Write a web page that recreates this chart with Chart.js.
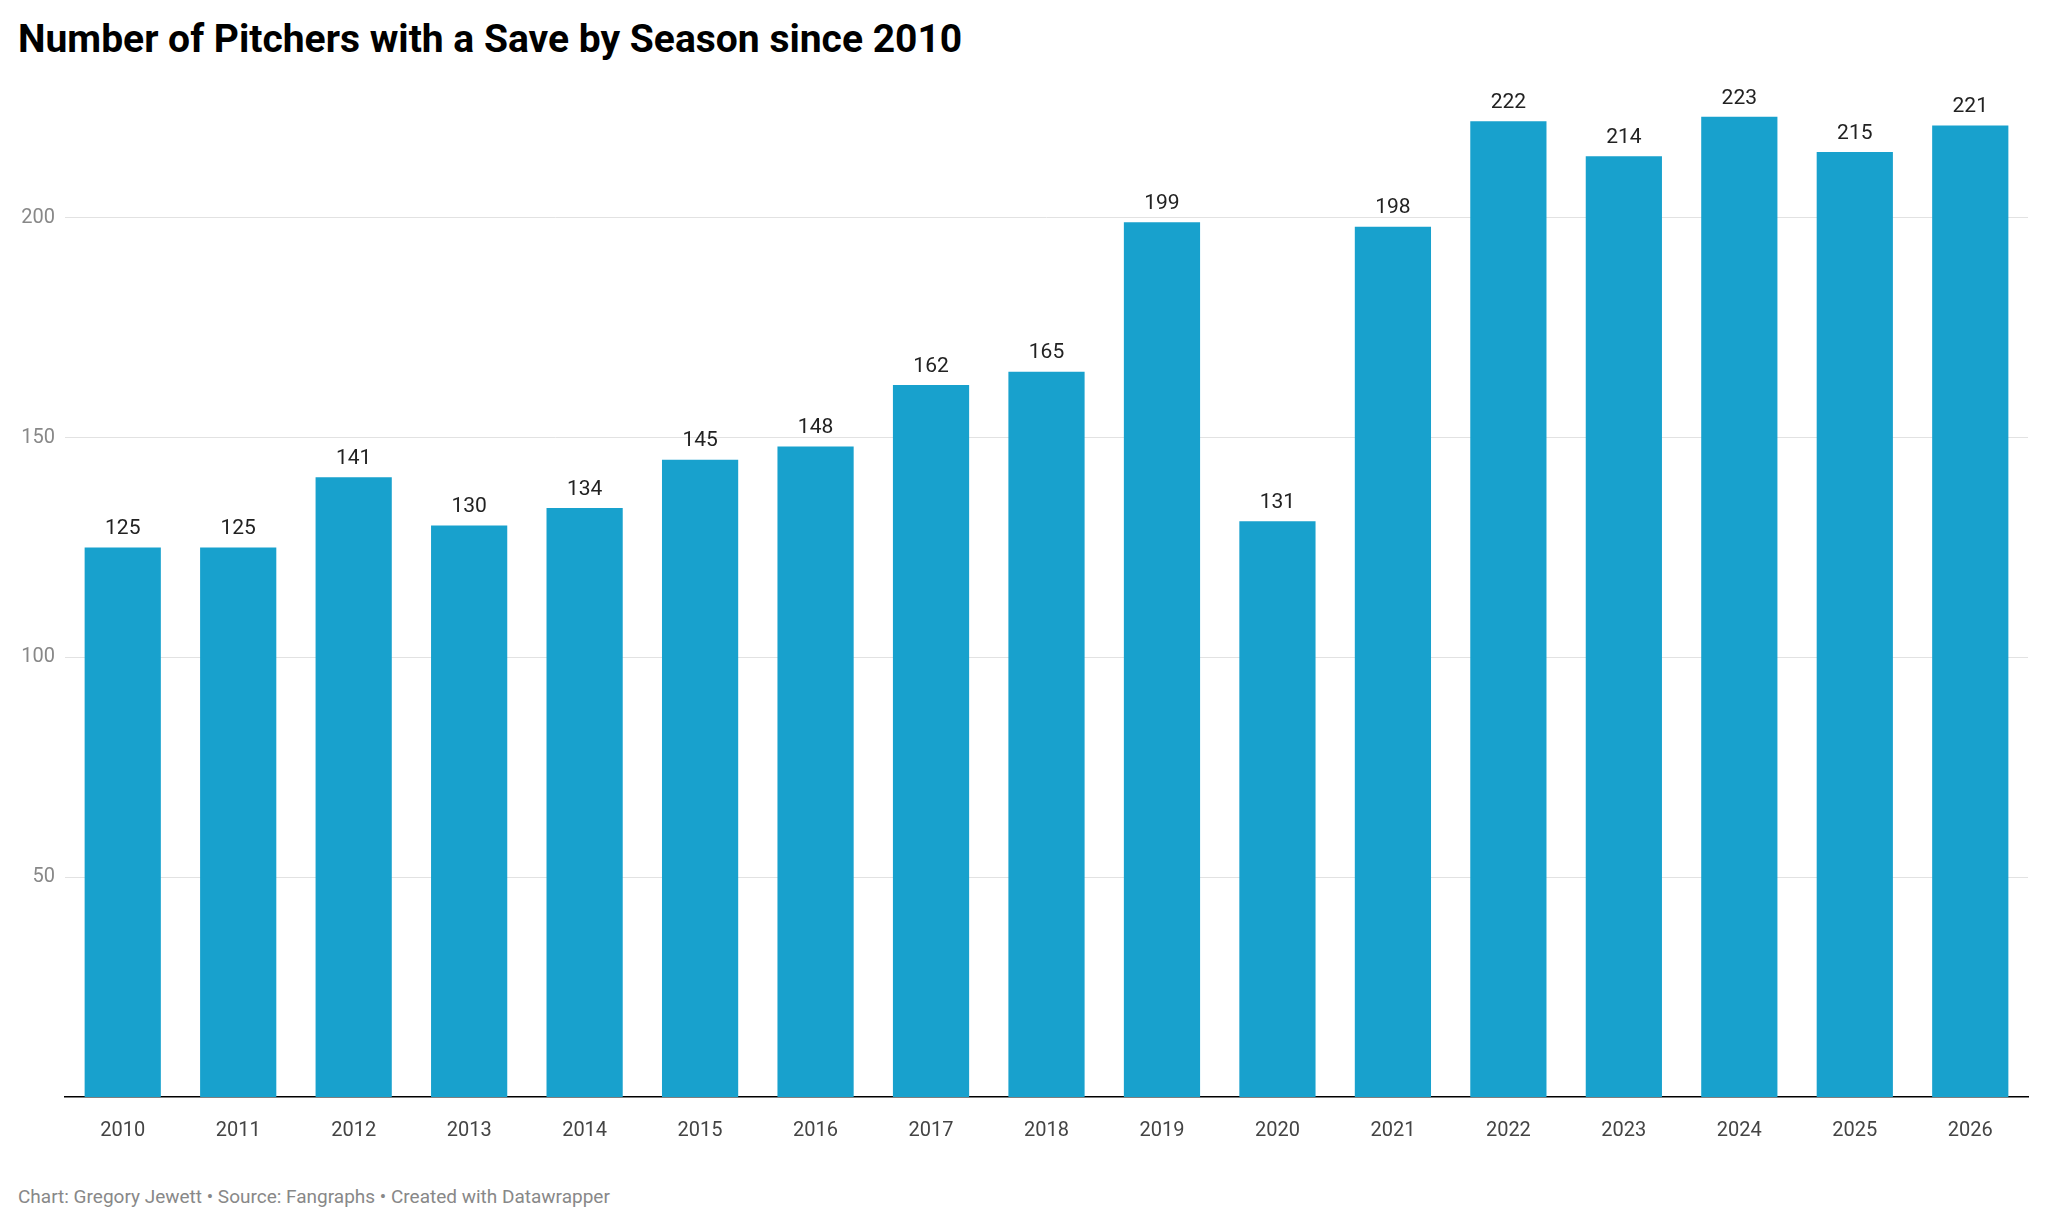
<!DOCTYPE html>
<html><head><meta charset="utf-8">
<script src="https://cdn.jsdelivr.net/npm/chart.js@4"></script>
<style>
body{margin:0;background:#fff;font-family:Roboto,sans-serif;}
#t{position:absolute;left:18px;top:16px;font-size:39px;font-weight:700;color:#000;}
#f{position:absolute;left:18px;top:1185px;font-size:19px;color:#888;}
#w{position:absolute;left:0;top:0;width:2048px;height:1155px;}
</style></head><body>
<div id="t">Number of Pitchers with a Save by Season since 2010</div>
<div id="w"><canvas id="c"></canvas></div>
<div id="f">Chart: Gregory Jewett • Source: Fangraphs • Created with Datawrapper</div>
<script>
const seasons=["2010","2011","2012","2013","2014","2015","2016","2017","2018","2019","2020","2021","2022","2023","2024","2025","2026"];
const pitchers=[125,125,141,130,134,145,148,162,165,199,131,198,222,214,223,215,221];
const yTicks=[50,100,150,200];
const labels={id:'labels',afterDatasetsDraw(ch){const x=ch.ctx;x.save();x.font='21px Roboto';x.fillStyle='#222';x.textAlign='center';x.textBaseline='bottom';
ch.getDatasetMeta(0).data.forEach((b,i)=>x.fillText(pitchers[i],b.x,b.y-8));x.restore();}};
new Chart(document.getElementById('c'),{type:'bar',data:{labels:seasons,datasets:[{data:pitchers,backgroundColor:'#18a1cd',categoryPercentage:0.66,barPercentage:1}]},
options:{responsive:true,maintainAspectRatio:false,animation:false,layout:{padding:{top:86,right:20,left:0,bottom:0}},
plugins:{legend:{display:false},tooltip:{enabled:false}},
scales:{x:{grid:{display:false},border:{color:'#000',width:1.5},ticks:{color:'#444',font:{family:'Roboto',size:20},padding:14},afterFit(s){s.height=58;}},
y:{min:0,max:230,afterBuildTicks(s){s.ticks=yTicks.map(v=>({value:v}));},grid:{color:'#e2e2e2',drawTicks:false},border:{display:false},
ticks:{color:'#888',font:{family:'Roboto',size:20},padding:10},afterFit(s){s.width=65;}}}},plugins:[labels]});
</script></body></html>
